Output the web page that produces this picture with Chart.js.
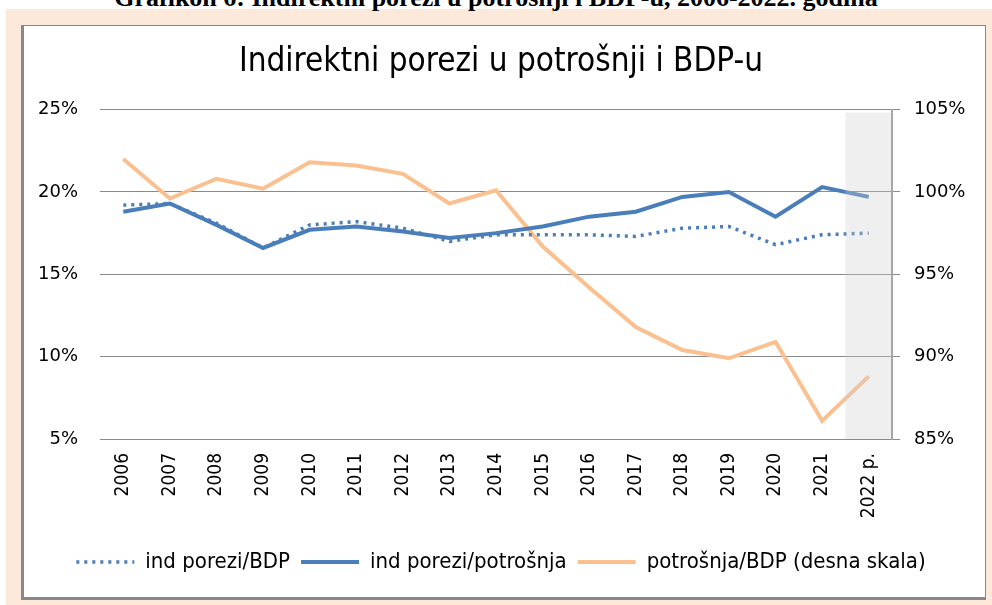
<!DOCTYPE html>
<html>
<head>
<meta charset="utf-8">
<script src="https://cdn.jsdelivr.net/npm/chart.js@4.4.1/dist/chart.umd.min.js"></script>
<style>
  body { margin: 0; width: 992px; height: 605px; background: #fff; overflow: hidden; position: relative; }
  #caption { position: absolute; left: 0; width: 992px; top: -16px; text-align: center;
    font: bold 26px "Liberation Serif", serif; line-height: 28px; white-space: nowrap; }
  #peach { position: absolute; left: 6px; top: 9px; right: 0; bottom: 0; background: #fde9d9; }
  #box { position: absolute; left: 21px; top: 25px; width: 961px; height: 571px; background: #fff;
    border: 1px solid #888; border-left-width: 3px; border-bottom-width: 3px; }
  #chart { position: absolute; left: 0; top: 0; }
</style>
</head>
<body>
<div id="peach"></div>
<div id="caption">Grafikon 6: Indirektni porezi u potrošnji i BDP-u, 2006-2022. godina</div>
<div id="box"></div>
<canvas id="chart" width="992" height="605"></canvas>
<script>
const years = ["2006", "2007", "2008", "2009", "2010", "2011", "2012", "2013", "2014",
  "2015", "2016", "2017", "2018", "2019", "2020", "2021", "2022 p."];

// left scale, %
const porezBdp = [19.2, 19.3, 18.1, 16.6, 18.0, 18.2, 17.8, 17.0, 17.4,
  17.4, 17.4, 17.3, 17.8, 17.9, 16.8, 17.4, 17.5];
const porezPotrosnja = [18.8, 19.3, 18.0, 16.6, 17.7, 17.9, 17.6, 17.2, 17.5,
  17.9, 18.5, 18.8, 19.7, 20.0, 18.5, 20.3, 19.7];

// right scale, %
const potrosnjaBdp = [102.0, 99.6, 100.8, 100.2, 101.8, 101.6, 101.1, 99.3, 100.1,
  96.7, 94.2, 91.8, 90.4, 89.9, 90.9, 86.1, 88.8];

const leftTicks = [5, 10, 15, 20, 25];
const rightTicks = [85, 90, 95, 100, 105];

const blue = "#4a7ebb";
const orange = "#fac08f";
const narrow = "'DejaVu Sans Condensed', 'Liberation Sans Narrow', sans-serif";

// grey band over the forecast year
const forecastShade = {
  id: "forecastShade",
  afterDatasetsDraw(chart) {
    const { ctx, chartArea, scales } = chart;
    const x = scales.x;
    const half = (x.getPixelForValue(1) - x.getPixelForValue(0)) / 2;
    const cx = x.getPixelForValue(years.length - 1);
    ctx.save();
    ctx.fillStyle = "rgba(205,205,205,0.32)";
    ctx.fillRect(cx - half, chartArea.top + 3, half * 2 - 1, chartArea.bottom - chartArea.top - 3);
    ctx.restore();
  }
};

new Chart(document.getElementById("chart"), {
  type: "line",
  data: {
    labels: years,
    datasets: [
      { label: "ind porezi/BDP", data: porezBdp, yAxisID: "y", borderColor: blue, backgroundColor: blue,
        borderWidth: 3.5, borderDash: [3, 5], pointRadius: 0, tension: 0 },
      { label: "ind porezi/potrošnja", data: porezPotrosnja, yAxisID: "y", borderColor: blue, backgroundColor: blue,
        borderWidth: 4, pointRadius: 0, tension: 0 },
      { label: "potrošnja/BDP (desna skala)", data: potrosnjaBdp, yAxisID: "y2", borderColor: orange, backgroundColor: orange,
        borderWidth: 4, pointRadius: 0, tension: 0 }
    ]
  },
  options: {
    responsive: false,
    animation: false,
    layout: { padding: { left: 30, right: 20, top: 0, bottom: 22 } },
    plugins: {
      title: {
        display: true,
        text: "Indirektni porezi u potrošnji i BDP-u",
        color: "#000",
        font: { family: narrow, size: 33, weight: "normal" },
        padding: { top: 43, bottom: 27 }
      },
      legend: {
        position: "bottom",
        labels: {
          usePointStyle: true,
          pointStyle: "line",
          pointStyleWidth: 58,
          color: "#000",
          padding: 11,
          font: { family: narrow, size: 22 },
          generateLabels: chart => Chart.defaults.plugins.legend.labels.generateLabels(chart).map(item => {
            const ds = chart.data.datasets[item.datasetIndex];
            item.lineDash = ds.borderDash || [];
            item.lineWidth = ds.borderWidth;
            return item;
          })
        }
      },
      tooltip: { enabled: false }
    },
    scales: {
      x: {
        offset: true,
        grid: { display: false, drawTicks: false },
        border: { display: false },
        afterFit: s => { s.height = 101; },
        ticks: {
          minRotation: 90, maxRotation: 90, padding: 14, autoSkip: false,
          color: "#000", font: { family: narrow, size: 19 }
        }
      },
      y: {
        position: "left",
        min: 5, max: 25,
        afterBuildTicks: s => { s.ticks = leftTicks.map(v => ({ value: v })); },
        afterFit: s => { s.width = 70; },
        grid: { color: "#8a8a8a", drawTicks: false },
        border: { display: false },
        ticks: { padding: 22, color: "#000", font: { family: "'DejaVu Sans'", size: 18 }, callback: v => v + "%" }
      },
      y2: {
        position: "right",
        min: 85, max: 105,
        afterBuildTicks: s => { s.ticks = rightTicks.map(v => ({ value: v })); },
        afterFit: s => { s.width = 80; },
        grid: { drawOnChartArea: false, color: "#8a8a8a", tickLength: 8 },
        border: { display: true, color: "#a6a6a6", width: 2 },
        ticks: { padding: 14, color: "#000", font: { family: "'DejaVu Sans'", size: 18 }, callback: v => v + "%" }
      }
    }
  },
  plugins: [forecastShade]
});
</script>
</body>
</html>
